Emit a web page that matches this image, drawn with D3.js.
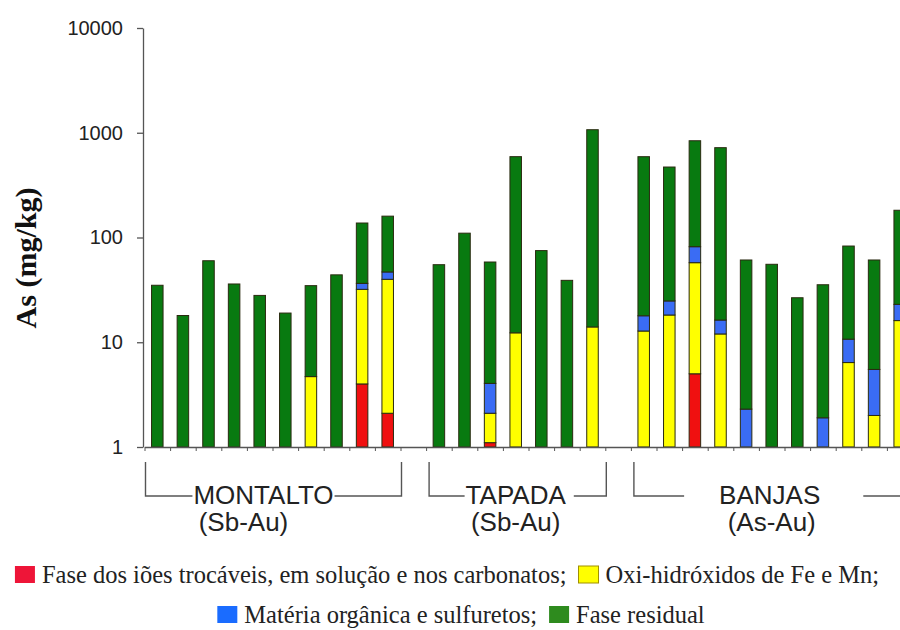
<!DOCTYPE html>
<html><head><meta charset="utf-8">
<script src="https://cdn.jsdelivr.net/npm/d3@7"></script>
<style>body{margin:0;background:#fff} svg{display:block}</style>
</head><body><svg id="c" width="900" height="630"></svg>
<script>
// ---- data ----
const samples = ["M1","M2","M3","M4","M5","M6","M7","M8","M9","M10",
                 "T1","T2","T3","T4","T5","T6","T7",
                 "B1","B2","B3","B4","B5","B6","B7","B8","B9","B10","B11"];
const groupNames = ["MONTALTO","TAPADA","BANJAS"];
const groupSubs = ["(Sb-Au)","(Sb-Au)","(As-Au)"];
const groupSizes = [10,7,11];
const phaseKeys = ["troc","oxi","org","res"];
const phaseLabels = ["Fase dos iões trocáveis, em solução e nos carbonatos;",
                     "Oxi-hidróxidos de Fe e Mn;",
                     "Matéria orgânica e sulfuretos;",
                     "Fase residual"];
const exchangeable = [0,0,0,0,0,0,0,0,4.0,2.1,
                      0,0,1.1,0,0,0,0,
                      0,0,5.0,0,0,0,0,0,0,0,0];
const oxides =       [0,0,0,0,0,0,4.7,0,28,37.8,
                      0,0,1.0,12.3,0,0,14,
                      12.8,18.2,52.5,12,0,0,0,0,6.4,2.0,16.1];
const organic =      [0,0,0,0,0,0,0,0,4.5,7.0,
                      0,0,1.95,0,0,0,0,
                      5.1,6.6,24.2,4.3,2.3,0,0,1.9,4.3,3.5,6.9];
const residual =     [35,18,60,36,28,19,30,44,101,113,
                      55,110,54.3,579,75,39,1055,
                      573,446,757,704,58.7,55.5,26.6,33.5,72.2,55.5,159];
const yTicks = [1,10,100,1000,10000];

// ---- styles ----
const barColors = {troc:"#f01010", oxi:"#ffff00", org:"#3a6cf4", res:"#087a10"};
const legendColors = ["#ee1538","#ffff00","#1a6cff","#2e8b1e"];

const svg = d3.select("#c");
const W = 900;
const x0 = 144.5, step = 25.6;

// slots with gaps between groups
const slots = [];
let k = 0;
groupSizes.forEach((n, gi) => {
  for (let i = 0; i < n; i++) slots.push(samples[k++]);
  if (gi < groupSizes.length - 1) slots.push("gap" + gi);
});
const x = d3.scaleBand().domain(slots)
  .range([x0, x0 + slots.length * step])
  .paddingInner(0.55).paddingOuter(0.275);
const y = d3.scaleLog().domain([1, 10000]).range([447, 28]);

const rows = samples.map((s, i) => ({sample: s, troc: exchangeable[i], oxi: oxides[i], org: organic[i], res: residual[i]}));
const series = d3.stack().keys(phaseKeys)(rows);

// bars
const gBars = svg.append("g");
series.forEach(ser => {
  gBars.selectAll(null).data(ser.filter(d => d[1] - d[0] > 0)).enter().append("rect")
    .attr("x", d => x(d.data.sample))
    .attr("width", x.bandwidth())
    .attr("y", d => y(d[1]))
    .attr("height", d => y(Math.max(d[0], 1)) - y(d[1]))
    .attr("fill", barColors[ser.key])
    .attr("stroke", "#2a2a10")
    .attr("stroke-width", 1);
});

// y axis
const yAxis = svg.append("g").attr("transform", `translate(${x0 - 1.5},0)`)
  .call(d3.axisLeft(y).tickValues(yTicks).tickFormat(d3.format("d")).tickSize(6).tickSizeOuter(0));
yAxis.select(".domain").attr("stroke", "#555").attr("stroke-width", 1.3);
yAxis.selectAll(".tick line").attr("stroke", "#555").attr("stroke-width", 1.3);
yAxis.selectAll(".tick text").attr("font-family", "Liberation Sans, Arial, sans-serif")
  .attr("font-size", 20).attr("fill", "#222").attr("x", -20);

// x axis (slot boundaries)
const xs = d3.scaleLinear().domain([0, slots.length]).range([x0, x0 + slots.length * step]);
const xAxis = svg.append("g").attr("transform", "translate(0,447)")
  .call(d3.axisBottom(xs).tickValues(d3.range(0, slots.length + 1)).tickFormat("").tickSize(4).tickSizeOuter(0));
xAxis.select(".domain").attr("stroke", "#555").attr("stroke-width", 1.3);
xAxis.selectAll(".tick line").attr("stroke", "#555").attr("stroke-width", 1);

// y title
svg.append("text").attr("transform", "translate(36,258) rotate(-90)")
  .attr("text-anchor", "middle").attr("font-family", "Liberation Serif, Times New Roman, serif")
  .attr("font-weight", "bold").attr("font-size", 30).attr("fill", "#111")
  .text("As (mg/kg)");

// group brackets & labels
const titleDx = [-9, 0, -2];
const subDx = [-29, 0, 0];
const gapL = [1, 1, 35];
const gapR = [1, 8, 43];
let first = 0;
groupSizes.forEach((n, gi) => {
  const s0 = samples[first], s1 = samples[first + n - 1];
  const left = x(s0) - x.step() * x.paddingInner() / 2 + (gi === 0 ? 1 : 3);
  const right = x(s1) + x.bandwidth() + x.step() * x.paddingInner() / 2 + 1;
  const cx = (x(s0) + x(s1) + x.bandwidth()) / 2;
  const g = svg.append("g");
  const t = g.append("text").attr("x", cx + titleDx[gi]).attr("y", 504)
    .attr("text-anchor", "middle").attr("font-family", "Liberation Sans, Arial, sans-serif")
    .attr("font-size", 26).attr("fill", "#222").text(groupNames[gi]);
  g.append("text").attr("x", cx + subDx[gi]).attr("y", 531)
    .attr("text-anchor", "middle").attr("font-family", "Liberation Sans, Arial, sans-serif")
    .attr("font-size", 26).attr("fill", "#222").text(groupSubs[gi]);
  const tw = t.node().getComputedTextLength();
  const tl = cx + titleDx[gi] - tw / 2, tr = cx + titleDx[gi] + tw / 2;
  const ly = 496;
  const path = `M${left},462V${ly}H${tl - gapL[gi]}M${tr + gapR[gi]},${ly}H${right}` + (right < W ? `V462` : "");
  g.append("path").attr("d", path).attr("fill", "none").attr("stroke", "#555").attr("stroke-width", 1.4);
  first += n;
});

// legend
const legRows = [[0, 1], [2, 3]];
const legY = [575, 615];
const box = 20, gapBT = 7, gapItem = 12;
legRows.forEach((row, ri) => {
  const g = svg.append("g");
  let cx = 0;
  row.forEach(idx => {
    g.append("rect").attr("x", cx).attr("y", legY[ri] - 9).attr("width", box).attr("height", 17)
      .attr("fill", legendColors[idx]).attr("stroke", idx === 1 ? "#a09000" : "none");
    const t = g.append("text").attr("x", cx + box + gapBT).attr("y", legY[ri] + 8)
      .attr("font-family", "Liberation Serif, Times New Roman, serif").attr("font-size", 24.5)
      .attr("fill", "#222").text(phaseLabels[idx]);
    cx += box + gapBT + t.node().getComputedTextLength() + gapItem;
  });
  const total = cx - gapItem;
  g.attr("transform", `translate(${(ri === 0 ? 447 : 461) - total / 2},0)`);
});
</script></body></html>
